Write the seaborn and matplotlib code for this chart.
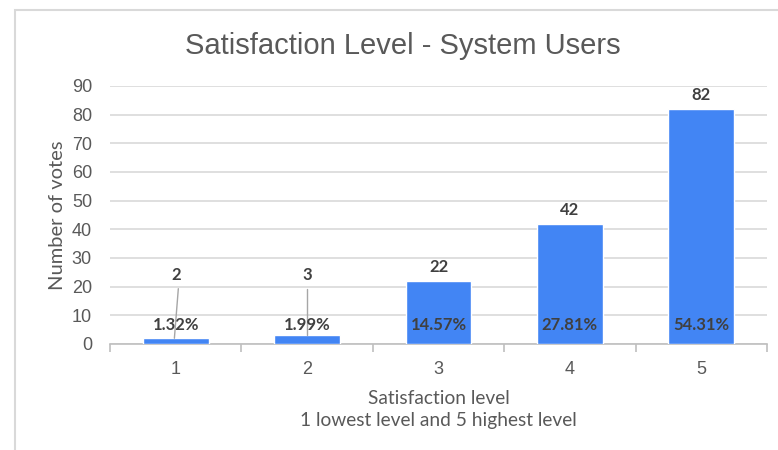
import matplotlib
matplotlib.use("Agg")
import matplotlib.pyplot as plt
import seaborn as sns
import pandas as pd
from matplotlib.patches import Rectangle
from matplotlib.ticker import FixedLocator

levels = ["1", "2", "3", "4", "5"]
votes = [2, 3, 22, 42, 82]
percents = ["1.32%", "1.99%", "14.57%", "27.81%", "54.31%"]
yticks = [0, 10, 20, 30, 40, 50, 60, 70, 80, 90]

title = "Satisfaction Level - System Users"
ylabel = "Number of votes"
xlabel = "Satisfaction level\n1 lowest level and 5 highest level"

sns.set_theme(style="white")
plt.rcParams['font.family'] = ['Liberation Sans', 'DejaVu Sans']

df = pd.DataFrame({"level": levels, "votes": votes})

fig = plt.figure(figsize=(7.78, 4.5), dpi=100)
ax = fig.add_axes([110/778, 1-344/450, (767-110)/778, (344-86)/450])

# outer frame
fig.patches.append(Rectangle((15/778, -0.1), 1.2, 1 - 10/450 + 0.1, transform=fig.transFigure,
                             fill=False, edgecolor="#d9d9d9", linewidth=1.5, zorder=0))

sns.barplot(data=df, x="level", y="votes", color="#4285f4", width=0.5, ax=ax,
            saturation=1, zorder=3)

ax.set_ylim(0, 90)
ax.set_xlim(-0.5, 4.5)
ax.set_yticks(yticks)
ax.yaxis.grid(True, color="#d9d9d9", linewidth=1.2, zorder=0)
ax.set_axisbelow(True)
for s in ["top", "right", "left"]:
    ax.spines[s].set_visible(False)
ax.spines["bottom"].set_color("#bfbfbf")
ax.spines["bottom"].set_linewidth(1.2)

ax.tick_params(axis="y", length=0, labelsize=13, labelcolor="#595959", pad=13)
ax.tick_params(axis="x", which="major", length=0, labelsize=13, labelcolor="#595959", pad=12)
ax.xaxis.set_minor_locator(FixedLocator([i - 0.5 for i in range(len(levels) + 1)]))
ax.tick_params(axis="x", which="minor", length=6, color="#bfbfbf", width=1.2, bottom=True)

ax.set_ylabel(ylabel, fontsize=14.5, color="#595959", family=["Lato", "DejaVu Sans"], labelpad=4)
ax.set_xlabel(xlabel, fontsize=13.8, color="#595959", family=["Lato", "DejaVu Sans"],
              labelpad=9, linespacing=1.35)
fig.text(403/778, 1 - 46/450, title, ha="center", va="center", fontsize=21, color="#595959")

lab_kw = dict(ha="center", va="center", fontsize=12, fontweight="bold", color="#404040",
              family=["Lato", "DejaVu Sans"])
for i, (v, p) in enumerate(zip(votes, percents)):
    if v < 10:
        ax.text(i, 24, str(v), **lab_kw)
        ax.plot([i + 0.02 if i == 0 else i, i - 0.01 if i == 0 else i], [19.3, v], color="#a6a6a6",
                linewidth=1, zorder=4)
    else:
        ax.annotate(str(v), (i, v), xytext=(0, 10), textcoords="offset points", **lab_kw)
    ax.text(i, 6.5, p, zorder=5, **lab_kw)

fig.savefig("out.png", dpi=100)
